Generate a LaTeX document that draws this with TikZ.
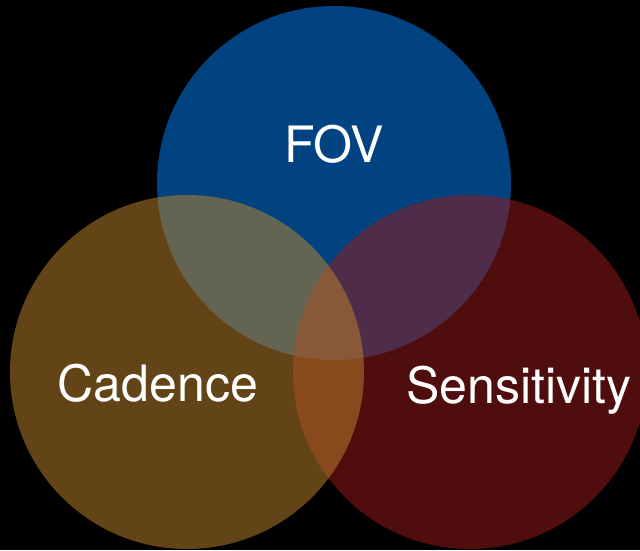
\documentclass[tikz,border=0pt]{standalone}
\usepackage{fontspec}
\setmainfont{TeX Gyre Heros}
\usetikzlibrary{positioning}
\definecolor{fovblue}{RGB}{0,128,242}
\definecolor{cadbrown}{RGB}{187,130,42}
\definecolor{sensred}{RGB}{151,25,25}
\begin{document}
\begin{tikzpicture}[every node/.style={text=white, font=\fontsize{28.5}{34}\selectfont},
                set/.style={fill opacity=0.53}]
            \fill[black] (0, 0) rectangle (12.8, 11);
            \useasboundingbox (0, 0) rectangle (12.8, 11);
            \fill[fovblue, set] (6.68, 7.34) circle (3.54);
            \fill[sensred, set] (9.40, 3.56) circle (3.54);
            \fill[cadbrown, set] (3.74, 3.56) circle (3.54);
            \node[anchor=base] (fov) at (6.68, 7.74) {FOV};
            \node[anchor=base] (cadence) at (3.16, 2.98) {Cadence};
            \node[anchor=base] (sens) at (10.38, 2.94) {Sensitivity};
        \end{tikzpicture}
\end{document}
